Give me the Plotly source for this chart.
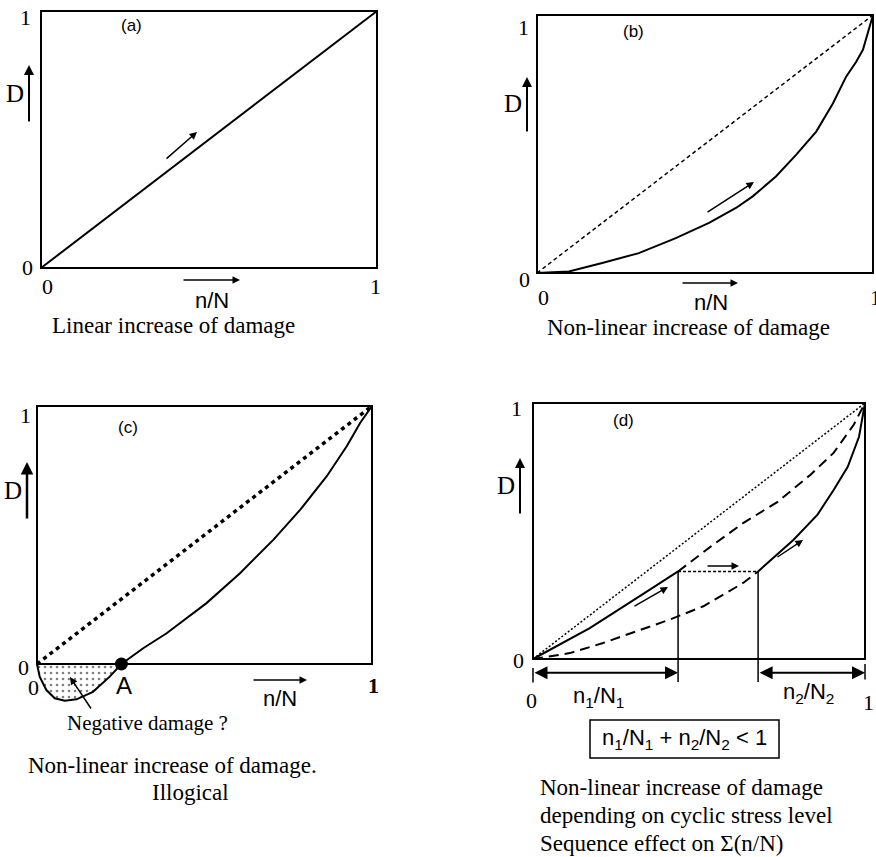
import plotly.graph_objects as go

W, H = 876, 857
SERIF = "Liberation Serif"
SANS = "Liberation Sans"

# ---------------- data ----------------
# (a) linear damage rule
a_x = [0.0, 1.0]
a_D = [0.0, 1.0]

# (b) non-linear damage curve
b_x = [0.0, 0.095, 0.194, 0.303, 0.413, 0.512, 0.592, 0.642, 0.711, 0.771,
       0.831, 0.881, 0.920, 0.950, 0.970, 0.985, 1.0]
b_D = [0.0, 0.006, 0.039, 0.077, 0.135, 0.194, 0.252, 0.297, 0.374, 0.458,
       0.548, 0.658, 0.761, 0.819, 0.865, 0.929, 1.0]

# (c) illogical curve with negative damage
c_x = [0.0, 0.008, 0.028, 0.053, 0.083, 0.118, 0.167, 0.217, 0.252, 0.317,
       0.387, 0.506, 0.606, 0.706, 0.786, 0.865, 0.925, 0.965, 1.0]
c_D = [0.0, -0.049, -0.101, -0.133, -0.142, -0.137, -0.108, -0.049, 0.0, 0.061,
       0.119, 0.236, 0.352, 0.482, 0.598, 0.728, 0.845, 0.935, 1.0]
A_x = 0.252

# (d) two stress levels, sequence effect
n1_N1 = 0.437
n2_N2 = 0.322
D_switch = 0.342
d_seg1_x = [0.0, 0.171, 0.352, 0.437]
d_seg1_D = [0.0, 0.121, 0.271, 0.342]
d_seg2_x = [0.678, 0.785, 0.857, 0.906, 0.948, 0.982, 1.0]
d_seg2_D = [0.342, 0.466, 0.564, 0.661, 0.751, 0.868, 1.0]
d_high_x = [0.437, 0.535, 0.634, 0.737, 0.836, 0.906, 0.966, 1.0]
d_high_D = [0.342, 0.439, 0.532, 0.614, 0.720, 0.806, 0.915, 1.0]
d_low_x = [0.0, 0.111, 0.211, 0.312, 0.412, 0.513, 0.573, 0.633, 0.678]
d_low_D = [0.0, 0.023, 0.0625, 0.108, 0.154, 0.206, 0.251, 0.297, 0.342]
diag_x = [0.0, 1.0]
diag_D = [0.0, 1.0]

# ---------------- panel geometry (pixels) ----------------
# n: (x of data 0, x of data 1, y of data 0, y of data 1, cell x0, cell x1, cell y0, cell y1)
panels = {
    1: (41, 377, 268, 11, 0, 440, 0, 400),
    2: (537, 873, 273, 15, 440, 876, 0, 400),
    3: (37, 372, 664, 406, 0, 440, 400, 857),
    4: (533, 865, 659, 403, 440, 876, 400, 857),
}

fig = go.Figure()
layout_axes = {}
for n, (x0p, x1p, y0p, y1p, cx0, cx1, cy0, cy1) in panels.items():
    sx = x1p - x0p
    sy = y0p - y1p
    xr = [(cx0 - x0p) / sx, (cx1 - x0p) / sx]
    yr = [(y0p - cy1) / sy, (y0p - cy0) / sy]
    sfx = "" if n == 1 else str(n)
    layout_axes["xaxis" + sfx] = dict(domain=[cx0 / W, cx1 / W], range=xr, visible=False,
                                      anchor="y" + sfx, fixedrange=True)
    layout_axes["yaxis" + sfx] = dict(domain=[1 - cy1 / H, 1 - cy0 / H], range=yr, visible=False,
                                      anchor="x" + sfx, fixedrange=True)


def ax_ref(n):
    return ("x", "y") if n == 1 else ("x%d" % n, "y%d" % n)


def line(n, x, y, width=2, dash="solid"):
    xa, ya = ax_ref(n)
    fig.add_trace(go.Scatter(x=x, y=y, mode="lines", xaxis=xa, yaxis=ya,
                             line=dict(color="black", width=width, dash=dash),
                             hoverinfo="skip", showlegend=False))


# (a)
line(1, a_x, a_D, 2)
# (b)
line(2, diag_x, diag_D, 1.5, "4px,3px")
line(2, b_x, b_D, 2)
# (c)
neg_x = [x for x, d in zip(c_x, c_D) if x <= A_x]
neg_D = [d for x, d in zip(c_x, c_D) if x <= A_x]
fig.add_trace(go.Scatter(x=neg_x + [0.0], y=neg_D + [0.0], mode="lines", xaxis="x3", yaxis="y3",
                         fill="toself", fillcolor="white",
                         fillpattern=dict(shape=".", fgcolor="black", bgcolor="white",
                                          size=6, solidity=0.15),
                         line=dict(width=0), hoverinfo="skip", showlegend=False))
line(3, diag_x, diag_D, 3.5, "4px,4px")
line(3, c_x, c_D, 2)
fig.add_trace(go.Scatter(x=[A_x], y=[0.0], mode="markers", xaxis="x3", yaxis="y3",
                         marker=dict(color="black", size=13), hoverinfo="skip", showlegend=False))
# (d)
line(4, diag_x, diag_D, 1.5, "2px,2px")
line(4, d_high_x, d_high_D, 2, "10px,6px")
line(4, d_low_x, d_low_D, 2, "10px,6px")
line(4, [n1_N1, 1 - n2_N2], [D_switch, D_switch], 1.5, "3px,2px")
line(4, d_seg1_x, d_seg1_D, 2)
line(4, d_seg2_x, d_seg2_D, 2)

shapes = []
for n in panels:
    xa, ya = ax_ref(n)
    shapes.append(dict(type="rect", xref=xa, yref=ya, x0=0, x1=1, y0=0, y1=1,
                       line=dict(color="black", width=2), layer="above"))
# (d) vertical markers and ticks
for xv in [n1_N1, 1 - n2_N2]:
    shapes.append(dict(type="line", xref="x4", yref="y4", x0=xv, x1=xv, y0=D_switch, y1=-0.09,
                       line=dict(color="black", width=1.5)))
shapes.append(dict(type="line", xref="x4", yref="y4", x0=0, x1=0, y0=-0.035, y1=-0.092,
                   line=dict(color="black", width=1.5)))
shapes.append(dict(type="line", xref="x4", yref="y4", x0=1, x1=1, y0=-0.02, y1=-0.08,
                   line=dict(color="black", width=1.5)))
# formula box
shapes.append(dict(type="rect", xref="paper", yref="paper", x0=590 / W, x1=779 / W,
                   y0=1 - 758 / H, y1=1 - 720 / H, line=dict(color="black", width=1.5)))

ann = []


def txt(px, py, s, size, family=SERIF, xanchor="center"):
    ann.append(dict(x=px / W, y=1 - py / H, xref="paper", yref="paper", text=s,
                    showarrow=False, xanchor=xanchor, yanchor="middle",
                    font=dict(size=size, family=family, color="black")))


def arr(x0, y0, x1, y1, width=1.5, size=1.0):
    ann.append(dict(x=x1 / W, y=1 - y1 / H, xref="paper", yref="paper",
                    ax=x0 - x1, ay=y0 - y1, axref="pixel", ayref="pixel",
                    text="", showarrow=True, arrowhead=2, arrowsize=size,
                    arrowwidth=width, arrowcolor="black", standoff=0, startstandoff=0))


TK = 22   # tick digits
DL = 25   # "D"
PL = 17   # panel letter
NN = 22   # n/N
CP = 23   # captions

# panel (a)
txt(25, 17, "1", TK); txt(27, 267, "0", TK)
txt(47, 287, "0", TK); txt(375, 287, "1", TK)
txt(15, 93, "D", DL); arr(29, 123, 29, 65, 2)
txt(131, 25, "(a)", PL, SANS)
txt(212, 300, "n/N", NN, SANS); arr(182, 280, 240, 280)
arr(165, 160, 197, 132)
txt(173, 325, "Linear increase of damage", CP)

# panel (b)
txt(523, 27, "1", TK); txt(524, 280, "0", TK)
txt(543, 297, "0", TK); txt(875, 297, "1", TK)
txt(513, 103, "D", DL); arr(527, 133, 527, 77, 2)
txt(633, 32, "(b)", PL, SANS)
txt(711, 303, "n/N", NN, SANS); arr(681, 283, 738, 283)
arr(706, 213, 754, 182)
txt(688, 328, "Non-linear increase of damage", CP)

# panel (c)
txt(25, 415, "1", TK); txt(23, 667, "0", TK)
txt(33, 687, "0", TK); txt(373, 685, "<b>1</b>", TK)
txt(124, 685, "A", 24, SANS)
txt(13, 490, "D", DL); arr(27, 520, 27, 462, 2.5)
txt(128, 427, "(c)", PL, SANS)
txt(280, 698, "n/N", NN, SANS); arr(252, 680, 307, 680)
txt(147, 723, "Negative damage ?", 21)
arr(92, 710, 70, 677, 1.5)
txt(172, 765, "Non-linear increase of damage.", CP)
txt(190, 792, "Illogical", CP)

# panel (d)
txt(516, 408, "1", TK); txt(518, 660, "0", TK)
txt(531, 700, "0", TK); txt(868, 702, "1", TK)
txt(506, 485, "D", DL); arr(520, 515, 520, 458, 2)
txt(623, 420, "(d)", PL, SANS)
txt(598, 697, "n<sub>1</sub>/N<sub>1</sub>", NN, SANS)
txt(808, 693, "n<sub>2</sub>/N<sub>2</sub>", NN, SANS)
txt(684, 739, "n<sub>1</sub>/N<sub>1</sub> + n<sub>2</sub>/N<sub>2</sub> &lt; 1", 22, SANS)
arr(633, 607, 668, 587)
arr(706, 566, 739, 566)
arr(776, 558, 803, 540)
txt(538, 787, "Non-linear increase of damage", CP, SERIF, "left")
txt(538, 815, "depending on cyclic stress level", CP, SERIF, "left")
txt(538, 843, "Sequence effect on Σ(n/N)", CP, SERIF, "left")

# double arrows in (d)
for xs, xe in [(0.0, n1_N1), (1 - n2_N2, 1.0)]:
    ann.append(dict(x=xe, y=-0.054, ax=xs, ay=-0.054, xref="x4", yref="y4",
                    axref="x4", ayref="y4", text="", showarrow=True,
                    arrowhead=2, arrowside="end+start", arrowsize=1.3,
                    arrowwidth=2, arrowcolor="black", standoff=0, startstandoff=0))

fig.update_layout(width=W, height=H, margin=dict(l=0, r=0, t=0, b=0),
                  paper_bgcolor="white", plot_bgcolor="white",
                  shapes=shapes, annotations=ann, showlegend=False, **layout_axes)

fig.write_html("out.html", config={"displayModeBar": False},
               post_script="document.body.style.margin='0px';document.body.style.overflow='hidden';")
